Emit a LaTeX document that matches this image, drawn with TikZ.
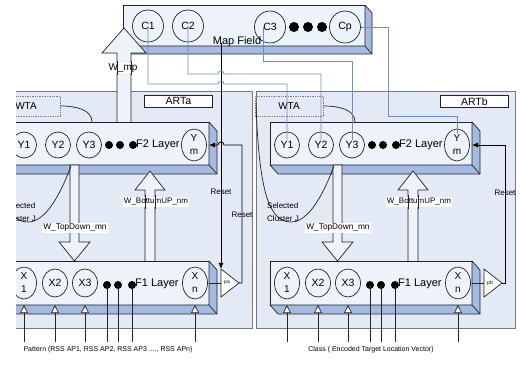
\documentclass[tikz,border=0pt]{standalone}
\usepackage{fontspec}
\setmainfont{Liberation Sans}
\usetikzlibrary{shapes.geometric,arrows.meta}
\definecolor{panelfill}{RGB}{227,233,245}
\definecolor{facefill}{RGB}{238,242,250}
\definecolor{bevelfill}{RGB}{164,186,226}
\definecolor{linkblue}{RGB}{110,144,200}
\definecolor{edgegray}{RGB}{120,120,120}
\definecolor{ink}{RGB}{35,35,35}
\newcommand\fsz[1]{\fontsize{#1}{#1}\selectfont}
\tikzset{
 panel/.style={draw=edgegray, fill=panelfill, line width=0.8pt},
 face/.style={draw=ink, fill=facefill, line width=0.7pt, anchor=north west, inner sep=0pt, outer sep=0pt},
 bevel/.style={draw=ink, fill=bevelfill, line width=0.7pt, line join=round},
 ln/.style={draw=ink, line width=0.7pt},
 neuron/.style={ellipse, draw=ink, line width=0.7pt, inner sep=0pt, minimum width=25pt, minimum height=26pt, font=\fsz{10.5}},
 tallneuron/.style={neuron, minimum height=32pt, align=center, font=\fontsize{10}{13}\selectfont},
 cneuron/.style={neuron, minimum width=31pt, minimum height=32pt},
 bigdot/.style={circle, fill=black, inner sep=0pt, minimum size=8pt},
 labelbox/.style={draw=ink, fill=white, line width=0.7pt, anchor=north west, minimum width=68pt, minimum height=12pt, inner sep=0pt, font=\fsz{10.5}},
 wtabox/.style={draw=gray, densely dotted, line width=0.7pt, minimum width=68pt, minimum height=20pt, inner sep=0pt, font=\fsz{10}},
 blockarrow/.style={draw=ink, fill=facefill, line width=0.7pt, line join=miter},
 arrowlabel/.style={fill=white, inner sep=1pt, font=\fsz{8.3}},
 smalltext/.style={inner sep=0pt, font=\fsz{8}},
 inarrow/.style={ln, -{Triangle[fill=white, length=8pt, width=8pt, line width=0.7pt]}},
 resetline/.style={draw=black, line width=0.8pt, -{Latex[length=6pt, width=5pt]}},
 linkline/.style={draw=linkblue, line width=0.8pt},
}
% #1 suffix, #2 xshift, #3 label box left, #4 label, #5 triangle text, #6 bottom text
\newcommand\artpanel[6]{%
\begin{scope}[xshift=#2]
\draw[panel] (256,91) rectangle (515,328);
\node[labelbox] (lab#1) at (#3,95) {#4};
\node[wtabox] (wta#1) at (289,106) {WTA};
% F2 layer
\node[face, minimum width=202pt, minimum height=43pt] (ftwo#1) at (270,122) {};
\draw[bevel] (ftwo#1.north east) -- ++(8,9) -- ++(0,43) -- ++(-202,0) -- (ftwo#1.south west) -- (ftwo#1.south east) -- cycle;
\draw[ln] (ftwo#1.south east) -- ++(8,9);
\node[neuron] (y1#1) at (287,145) {Y1};
\node[neuron] (y2#1) at (321,145) {Y2};
\node[neuron] (y3#1) at (352,145) {Y3};
\node[tallneuron] (ym#1) at (457,145) {Y\\m};
\node[bigdot] (fa#1) at (372,145) {};
\node[bigdot] (fb#1) at (383,145) {};
\node[bigdot] (fc#1) at (396,145) {};
\node[anchor=west, inner sep=0pt, font=\fsz{11}] (ftwol#1) at (399,145) {F2 Layer};
% F1 layer
\node[face, minimum width=202pt, minimum height=44pt] (fone#1) at (270,261) {};
\draw[bevel] (fone#1.north east) -- ++(8,9) -- ++(0,44) -- ++(-202,0) -- (fone#1.south west) -- (fone#1.south east) -- cycle;
\draw[ln] (fone#1.south east) -- ++(8,9);
\node[tallneuron] (x1#1) at (287,283) {X\\1};
\node[neuron, minimum height=28pt] (x2#1) at (318,283) {X2};
\node[neuron, minimum height=28pt] (x3#1) at (348,283) {X3};
\node[tallneuron] (xn#1) at (458,283) {X\\n};
\node[bigdot] (ga#1) at (370,285) {};
\node[bigdot] (gb#1) at (381,285) {};
\node[bigdot] (gc#1) at (395,285) {};
\node[anchor=west, inner sep=0pt, font=\fsz{11}] (fonel#1) at (398,284) {F1 Layer};
% inputs
\coordinate (inx1#1) at (287,342);
\coordinate (inx2#1) at (318,342);
\coordinate (inx3#1) at (348,342);
\coordinate (inxn#1) at (458,342);
\coordinate (inga#1) at (370,342);
\coordinate (ingb#1) at (381,342);
\coordinate (ingc#1) at (395,342);
\draw[inarrow] (inx1#1) -- (x1#1 |- fone#1.south);
\draw[inarrow] (inx2#1) -- (x2#1 |- fone#1.south);
\draw[inarrow] (inx3#1) -- (x3#1 |- fone#1.south);
\draw[inarrow] (inxn#1) -- (xn#1 |- fone#1.south);
\draw[ln] (ga#1.center) -- (inga#1);
\draw[ln] (gb#1.center) -- (ingb#1);
\draw[ln] (gc#1.center) -- (ingc#1);
\node[inner sep=0pt, font=\fsz{7}] (bot#1) at (371,350) {#6};
% block arrows
\draw[blockarrow] (333,165) -- (342,165) -- (342,242) -- (353,242) -- (337.5,261) -- (322,242) -- (333,242) -- cycle;
\node[arrowlabel] (tdl#1) at (338,228) {W\_TopDown\_mn};
\draw[blockarrow] (408,261) -- (408,190) -- (398,190) -- (413,171) -- (428,190) -- (418,190) -- (418,261);
\node[arrowlabel, font=\fsz{8}] (bul#1) at (419,202) {W\_BottumUP\_nm};
\draw[ln] (408,195) -- (408,209) (418,195) -- (418,209);
% WTA and selected cluster
\draw[ln] (wta#1.east) .. controls (340,106) and (355,110) .. (355,122);
\draw[ln] (256,103) .. controls (259,195) and (270,222) .. (291,222) .. controls (310,222) and (325,190) .. (334,166);
\node[smalltext, anchor=west, align=left, font=\fontsize{8}{13}\selectfont] (sel#1) at (267,212) {Selected\\Cluster J};
% vigilance triangle
\coordinate (trtop#1) at (484,269);
\coordinate (trbot#1) at (484,297);
\coordinate (tip#1) at (502,283);
\coordinate (trin#1) at (484,283);
\draw[ln, fill=white, line join=miter] (trtop#1) -- (tip#1) -- (trbot#1) -- cycle;
\node[inner sep=0pt, font=\fsz{5}] (trl#1) at (490,283) {#5};
\draw[ln] (fone#1.east) -- (trin#1);
\end{scope}}

\begin{document}
\begin{tikzpicture}[x=1pt, y=-1pt]
\useasboundingbox (0,0) rectangle (520,374);
\fill[white] (0,0) rectangle (520,374);
% Map field
\node[face, minimum width=242pt, minimum height=41pt] (mf) at (123,5) {};
\draw[bevel] (mf.north east) -- ++(7,8) -- ++(0,41) -- ++(-242,0) -- (mf.south west) -- (mf.south east) -- cycle;
\draw[ln] (mf.south east) -- ++(7,8);
\node[cneuron] (c1) at (148,26) {C1};
\node[cneuron] (c2) at (188,26) {C2};
\node[cneuron] (c3) at (270,27) {C3};
\node[cneuron] (cp) at (345,27) {Cp};
\node[bigdot, minimum size=10pt] (cd1) at (294,27) {};
\node[bigdot, minimum size=10pt] (cd2) at (308,27) {};
\node[bigdot, minimum size=10pt] (cd3) at (322,27) {};
\node[inner sep=0pt, font=\fsz{11}] (mft) at (237,42) {Map Field};
\coordinate (mfout) at (221,43);
% panels
\begin{scope}
\clip (16,0) rectangle (520,374);
\artpanel{a}{-263pt}{407}{ARTa}{pa}{Pattern (RSS AP1, RSS AP2, RSS AP3 ...., RSS APn)}
\end{scope}
\artpanel{b}{0pt}{440}{ARTb}{pb}{Class ( Encoded Target Location Vector)}
% W_mp arrow
\draw[blockarrow] (117,122) -- (117,53) -- (102,53) -- (124,28) -- (146,53) -- (131,53) -- (131,122);
\node[arrowlabel, font=\fsz{10}] (wmp) at (123,68) {W\_mp};
\draw[ln] (117,61) -- (117,75) (131,61) -- (131,75);
% map field to ARTa vigilance
\draw[resetline] (mfout) -- (trtopa);
% map field links
\draw[linkline] (c1.center) -- (c1.center |- 0,84) -- (218,84) arc[start angle=180, end angle=0, radius=3pt] -- (y1b.center |- 0,84) -- ([yshift=5pt]y1b.center);
\draw[linkline] (c2.center) -- (c2.center |- 0,74) -- (218,74) arc[start angle=180, end angle=0, radius=3pt] -- (y2b.center |- 0,74) -- ([yshift=5pt]y2b.center);
\draw[linkline] ([xshift=-7pt]c3.center) |- (y3b.center |- 0,61) -- ([yshift=5pt]y3b.center);
\draw[linkline] (cp.east) -| (388,116) -| ([yshift=11pt]ymb.center);
% resets
\draw[resetline] (tipa) -- ++(3,0) -- (242,145) -- (224,145) arc[start angle=0, end angle=180, radius=3pt] -- (ftwoa.east |- yma.center);
\draw[resetline] (tipb) -- ++(3,0) |- (ftwob.east |- ymb.center);
\node[smalltext] (rsa) at (221,192) {Reset};
\node[smalltext] (rsb) at (242,215) {Reset};
\node[smalltext] (rsc) at (505,193) {Reset};
\end{tikzpicture}
\end{document}
